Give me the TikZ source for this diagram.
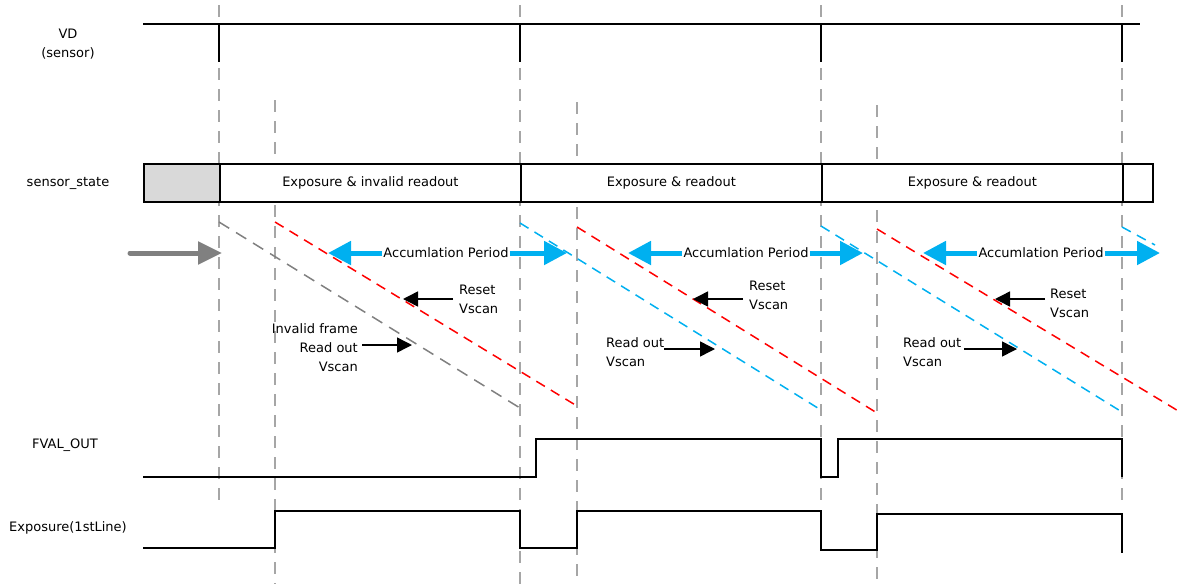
\documentclass[tikz,border=0pt]{standalone}
\usepackage{fontspec}
\setmainfont{DejaVu Sans}
\usetikzlibrary{arrows.meta}
\definecolor{cblue}{HTML}{00B0F0}
\definecolor{cred}{HTML}{FF0000}
\definecolor{guidegray}{HTML}{A6A6A6}
\definecolor{scangray}{HTML}{808080}
\definecolor{boxgray}{HTML}{D9D9D9}
\tikzset{
  guide/.style={draw=guidegray, line width=1.5pt, dash pattern=on 12pt off 9pt},
  sig/.style={draw=black, line width=1.8pt},
  scanred/.style={draw=cred, line width=1.5pt, dash pattern=on 10pt off 7pt},
  scanblue/.style={draw=cblue, line width=1.5pt, dash pattern=on 10pt off 7pt},
  scangray/.style={draw=scangray, line width=1.5pt, dash pattern=on 12pt off 8pt},
  statebox/.style={draw=black, line width=1.8pt, rectangle, inner sep=0pt, minimum height=38pt, anchor=west},
  lbl/.style={inner sep=0pt},
  acclbl/.style={inner xsep=1pt, inner ysep=0pt},
  accarrow/.style={draw=cblue, line width=5pt, -{Triangle[length=23pt,width=23pt]}},
  blkarrow/.style={draw=black, line width=1.5pt, -{Triangle[length=15pt,width=15pt]}},
  grayarrow/.style={draw=scangray, line width=5pt, line cap=round, -{Triangle[length=24pt,width=22pt]}},
  scanlbl/.style={inner ysep=0pt, font=\fontsize{13}{19}\selectfont}
}
\begin{document}
\begin{tikzpicture}[x=1pt,y=-1pt,font=\fontsize{13}{15}\selectfont]
\useasboundingbox (0,0) rectangle (1186,584);

% vertical guides
\draw[guide] (219,5) -- (219,502);
\draw[guide] (275,100) -- (275,584);
\draw[guide] (520,5) -- (520,584);
\draw[guide] (577,102) -- (577,584);
\draw[guide] (821,5) -- (821,505);
\draw[guide] (877,105) -- (877,584);
\draw[guide] (1122,5) -- (1122,505);

% row labels
\node[lbl] (vd) at (68,34) {VD};
\node[lbl] (vds) at (68,53) {(sensor)};
\node[lbl] (ss) at (68,183) {sensor\_state};
\node[lbl] (fv) at (65,445) {FVAL\_OUT};
\node[lbl] (ex) at (68,528) {Exposure(1stLine)};

% VD signal
\draw[sig] (143,24) -- (1140,24);
\draw[sig] (219,24) -- (219,62);
\draw[sig] (520,24) -- (520,62);
\draw[sig] (821,24) -- (821,62);
\draw[sig] (1122,24) -- (1122,62);

% sensor state boxes
\node[statebox, fill=boxgray, minimum width=76pt] (s0) at (143,183) {};
\node[statebox, fill=white, minimum width=301pt] (s1) at (219,183) {Exposure \& invalid readout};
\node[statebox, fill=white, minimum width=301pt] (s2) at (520,183) {Exposure \& readout};
\node[statebox, fill=white, minimum width=301pt] (s3) at (821,183) {Exposure \& readout};
\node[statebox, fill=white, minimum width=30pt] (s4) at (1122,183) {};

% scan lines
\draw[scangray] (219,222) -- (520,408);
\draw[scanred] (275,222) -- (577,406);
\draw[scanblue] (520,223) -- (821,410);
\draw[scanred] (577,227) -- (877,413);
\draw[scanblue] (821,226) -- (1122,412);
\draw[scanred] (877,229) -- (1180,412);
\draw[scanblue] (1122,227) -- (1155,245);

% start arrow
\coordinate (st0) at (130,253);
\coordinate (st1) at (222,253);
\draw[grayarrow] (st0) -- (st1);

% accumulation periods
\node[acclbl] (acc1) at (446,253) {Accumlation Period};
\coordinate (a1l) at (328,253);
\coordinate (a1r) at (567,253);
\draw[accarrow] (acc1.west) -- (a1l);
\draw[accarrow] (acc1.east) -- (a1r);

\node[acclbl] (acc2) at (746,253) {Accumlation Period};
\coordinate (a2l) at (628,253);
\coordinate (a2r) at (863,253);
\draw[accarrow] (acc2.west) -- (a2l);
\draw[accarrow] (acc2.east) -- (a2r);

\node[acclbl] (acc3) at (1041,253) {Accumlation Period};
\coordinate (a3l) at (923,253);
\coordinate (a3r) at (1160,253);
\draw[accarrow] (acc3.west) -- (a3l);
\draw[accarrow] (acc3.east) -- (a3r);

% reset vscan labels
\node[scanlbl, anchor=west, align=left, inner xsep=6pt] (r1) at (453,299.5) {Reset\\Vscan};
\coordinate (rt1) at (403,299);
\draw[blkarrow] (r1.west |- rt1) -- (rt1);

\node[scanlbl, anchor=west, align=left, inner xsep=6pt] (r2) at (743,295.5) {Reset\\Vscan};
\coordinate (rt2) at (693,299);
\draw[blkarrow] (r2.west |- rt2) -- (rt2);

\node[scanlbl, anchor=west, align=left, inner xsep=5pt] (r3) at (1045,303.5) {Reset\\Vscan};
\coordinate (rt3) at (995,299);
\draw[blkarrow] (r3.west |- rt3) -- (rt3);

% read out labels
\node[scanlbl, anchor=east, align=right, inner xsep=4pt] (ro1) at (362,347.5) {Invalid frame\\Read out\\Vscan};
\coordinate (rot1) at (412,345);
\draw[blkarrow] (ro1.east |- rot1) -- (rot1);

\node[scanlbl, anchor=west, align=left, inner xsep=0pt] (ro2) at (606,352.5) {Read out\\Vscan};
\coordinate (rot2) at (715,349);
\draw[blkarrow] (ro2.east |- rot2) -- (rot2);

\node[scanlbl, anchor=west, align=left, inner xsep=0pt] (ro3) at (903,352.5) {Read out\\Vscan};
\coordinate (rot3) at (1017,349);
\draw[blkarrow] (ro3.east |- rot3) ++(3,0) -- (rot3);

% FVAL_OUT
\draw[sig] (143,477) -- (536,477) -- (536,439) -- (821,439) -- (821,477) -- (838,477) -- (838,439) -- (1122,439) -- (1122,477);

% Exposure(1stLine)
\draw[sig] (143,548) -- (275,548) -- (275,511) -- (520,511) -- (520,548) -- (577,548) -- (577,511) -- (821,511) -- (821,550) -- (877,550) -- (877,514) -- (1122,514) -- (1122,553);

\end{tikzpicture}
\end{document}
